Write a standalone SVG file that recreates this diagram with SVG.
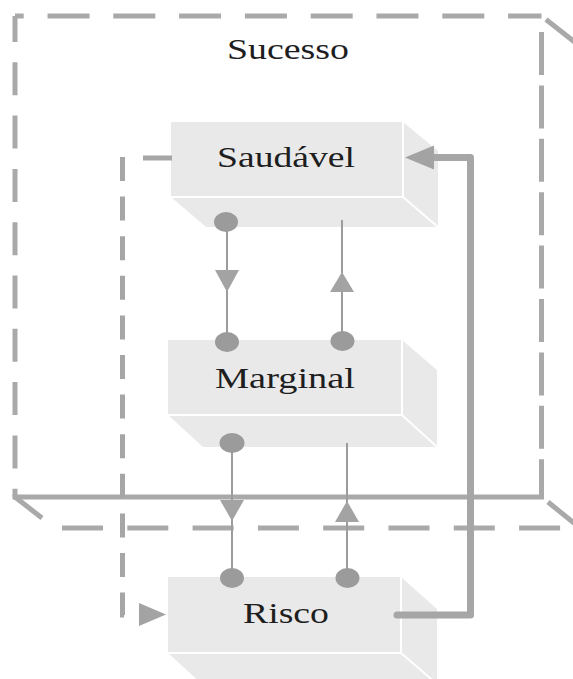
<svg xmlns="http://www.w3.org/2000/svg" width="573" height="679" viewBox="0 0 573 679">
<style>
.ob{stroke:#a9a9a9;stroke-width:5;fill:none}
.face{fill:#e9e9e9}
.edge{stroke:#ffffff;stroke-width:2;fill:none}
.lbl{font-family:"Liberation Serif","Times New Roman",serif;font-size:30px;fill:#1e1e1e}
.thin{stroke:#9c9c9c;stroke-width:2;fill:none}
.dot{fill:#9b9b9b}
.head{fill:#a3a3a3}
.thick{stroke:#a6a6a6;stroke-width:7;fill:none;stroke-linejoin:round;stroke-linecap:round}
.dash{stroke:#a6a6a6;stroke-width:5;fill:none;stroke-dasharray:24 15.6}
</style>
<rect width="573" height="679" fill="#ffffff"/>
<g id="sucesso">
<line class="ob" x1="15" y1="16" x2="541.5" y2="16" stroke-dasharray="42 23.8" stroke-dashoffset="33.3"/>
<line class="ob" x1="15" y1="16" x2="15" y2="497" stroke-dasharray="33 20.3" stroke-dashoffset="7"/>
<line class="ob" x1="541.5" y1="32" x2="541.5" y2="497" stroke-dasharray="43 10.4"/>
<line class="ob" x1="12.5" y1="497" x2="544" y2="497"/>
<line class="ob" x1="546" y1="19.5" x2="581" y2="47"/>
<line class="ob" x1="15" y1="497" x2="42" y2="518"/>
<line class="ob" x1="548" y1="502" x2="580" y2="528"/>
<line class="ob" x1="62" y1="528" x2="573" y2="528" stroke-dasharray="41 24.3"/>
<text class="lbl" x="227" y="59" textLength="122" lengthAdjust="spacingAndGlyphs">Sucesso</text>
</g>
<g id="saudavel">
<polygon class="face" points="171,122 403,122 438,151 438,227 206,227 171,197"/>
<polyline class="edge" points="171,197 403,197 403,122"/>
<line class="edge" x1="403" y1="197" x2="438" y2="227"/>
<text class="lbl" x="217" y="167" textLength="138" lengthAdjust="spacingAndGlyphs">Saudável</text>
</g>
<g id="marginal">
<polygon class="face" points="168,340 402,340 437,370 437,447 203,447 168,415"/>
<polyline class="edge" points="168,415 402,415 402,340"/>
<line class="edge" x1="402" y1="415" x2="437" y2="447"/>
<text class="lbl" x="215" y="388" textLength="140" lengthAdjust="spacingAndGlyphs">Marginal</text>
</g>
<g id="risco">
<polygon class="face" points="168,577 401,577 437,609 437,685 203,685 168,653"/>
<polyline class="edge" points="168,653 401,653 401,577"/>
<line class="edge" x1="401" y1="653" x2="437" y2="684"/>
<text class="lbl" x="243" y="623" textLength="86" lengthAdjust="spacingAndGlyphs">Risco</text>
</g>
<g id="connectors">
<line class="thin" x1="227" y1="222" x2="227" y2="342"/>
<polygon class="head" points="215,270 239,270 227,292"/>
<line class="thin" x1="342" y1="220" x2="342" y2="341"/>
<polygon class="head" points="330,292 354,292 342,272"/>
<line class="thin" x1="232" y1="443" x2="232" y2="578"/>
<polygon class="head" points="220,500 244,500 232,521"/>
<line class="thin" x1="347" y1="443" x2="347" y2="578"/>
<polygon class="head" points="335,522 359,522 347,501"/>
<ellipse class="dot" cx="226" cy="222" rx="12" ry="10"/>
<ellipse class="dot" cx="227" cy="342" rx="12" ry="10"/>
<ellipse class="dot" cx="342.5" cy="341" rx="12" ry="10"/>
<ellipse class="dot" cx="232" cy="443" rx="12.5" ry="10"/>
<ellipse class="dot" cx="232" cy="578" rx="12" ry="10"/>
<ellipse class="dot" cx="347.5" cy="578" rx="12" ry="10"/>
<path class="thick" d="M397,615 H470.5 V157.5 H430"/>
<polygon class="head" points="405,157.5 434,145.5 434,169.5"/>
<line stroke="#a6a6a6" stroke-width="5" x1="143" y1="158" x2="172" y2="158"/>
<path class="dash" d="M122.5,157 V615 H127"/>
<polygon class="head" points="139,603 139,626 166,614.5"/>
</g>
</svg>
